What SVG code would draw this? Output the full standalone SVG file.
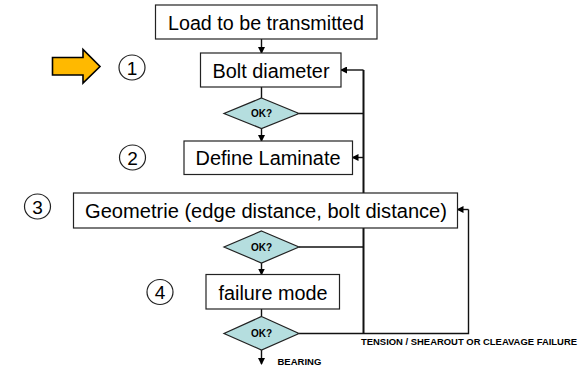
<svg xmlns="http://www.w3.org/2000/svg" width="585" height="368" viewBox="0 0 585 368">
<defs>
<marker id="ah" markerWidth="7" markerHeight="7" refX="6" refY="3.5" orient="auto" markerUnits="userSpaceOnUse">
<path d="M0,0 L7,3.5 L0,7 Z" fill="#000"/>
</marker>
<style>
.box{fill:#fff;stroke:#222;stroke-width:1.2}
.dia{fill:#B5DEDF;stroke:#222;stroke-width:1.2}
.lbl{font-family:"Liberation Sans",Arial,sans-serif;font-size:20px;fill:#000;text-anchor:middle}
.ok{font-family:"Liberation Sans",Arial,sans-serif;font-size:10px;font-weight:bold;fill:#000;text-anchor:middle}
.num{font-family:"Liberation Sans",Arial,sans-serif;font-size:19px;fill:#000;text-anchor:middle}
.circ{fill:#fff;stroke:#222;stroke-width:1.2}
.small{font-family:"Liberation Sans",Arial,sans-serif;font-size:9.5px;font-weight:bold;fill:#000}
.ln{fill:none;stroke:#111;stroke-width:1.4}
.thick{fill:none;stroke:#111;stroke-width:2}
</style>
</defs>

<g id="connectors">
<line class="ln" x1="261.5" y1="39" x2="261.5" y2="53" marker-end="url(#ah)"/>
<line class="ln" x1="261.5" y1="87" x2="261.5" y2="98"/>
<line class="ln" x1="261.5" y1="128" x2="261.5" y2="141" marker-end="url(#ah)"/>
<line class="ln" x1="261.5" y1="263" x2="261.5" y2="274.5" marker-end="url(#ah)"/>
<line class="ln" x1="261.5" y1="309" x2="261.5" y2="316"/>
<line class="ln" x1="261.5" y1="350" x2="261.5" y2="364" marker-end="url(#ah)"/>
<polyline class="ln" points="299,113.5 363.5,113.5"/>
<polyline class="ln" points="299,247 363.5,247"/>
<polyline class="thick" points="363.5,70 363.5,333.5"/>
<line class="ln" x1="363.5" y1="70" x2="341" y2="70" marker-end="url(#ah)"/>
<line class="ln" x1="363.5" y1="157.5" x2="352.5" y2="157.5" marker-end="url(#ah)"/>
<polyline class="ln" points="299,333.5 468.5,333.5 468.5,209.5"/>
<line class="ln" x1="468.5" y1="209.5" x2="457.5" y2="209.5" marker-end="url(#ah)"/>
</g>

<g id="arrow-pointer">
<polygon points="52.5,57.5 83,57.5 83,49.5 100,66.5 83,83 83,75 52.5,75" fill="#FFB900" stroke="#000" stroke-width="1.6"/>
</g>

<g id="step1"><ellipse class="circ" cx="132" cy="67.5" rx="13" ry="12.5"/><text class="num" x="132" y="74.5">1</text></g>
<g id="step2"><ellipse class="circ" cx="132.5" cy="157.5" rx="13" ry="12.5"/><text class="num" x="132.5" y="164.5">2</text></g>
<g id="step3"><ellipse class="circ" cx="37.5" cy="206.5" rx="13" ry="12.5"/><text class="num" x="37.5" y="213.5">3</text></g>
<g id="step4"><ellipse class="circ" cx="160" cy="292" rx="13" ry="12.5"/><text class="num" x="160" y="299">4</text></g>

<g id="load"><rect class="box" x="155.5" y="5" width="221.5" height="34"/><text class="lbl" x="266" y="29.5" textLength="196" lengthAdjust="spacingAndGlyphs">Load to be transmitted</text></g>
<g id="bolt"><rect class="box" x="200.5" y="53" width="140.5" height="34"/><text class="lbl" x="271" y="77.5" textLength="117" lengthAdjust="spacingAndGlyphs">Bolt diameter</text></g>
<g id="ok1"><polygon class="dia" points="261.5,98 299,113.5 261.5,128.5 224,113.5"/><text class="ok" x="261.5" y="117">OK?</text></g>
<g id="laminate"><rect class="box" x="184" y="141" width="168.5" height="33.5"/><text class="lbl" x="268" y="165" textLength="145" lengthAdjust="spacingAndGlyphs">Define Laminate</text></g>
<g id="geometrie"><rect class="box" x="73.5" y="193" width="384" height="35"/><text class="lbl" x="266" y="218" textLength="362" lengthAdjust="spacingAndGlyphs">Geometrie (edge distance, bolt distance)</text></g>
<g id="ok2"><polygon class="dia" points="261.5,231 299,247 261.5,263 224,247"/><text class="ok" x="261.5" y="250.5">OK?</text></g>
<g id="failure"><rect class="box" x="206" y="274.5" width="133.5" height="34.5"/><text class="lbl" x="273" y="299.5" textLength="109" lengthAdjust="spacingAndGlyphs">failure mode</text></g>
<g id="ok3"><polygon class="dia" points="261.5,316.5 299,333.5 261.5,350 224,333.5"/><text class="ok" x="261.5" y="337">OK?</text></g>

<text class="small" x="361" y="344.5" textLength="216" lengthAdjust="spacingAndGlyphs">TENSION / SHEAROUT OR CLEAVAGE  FAILURE</text>
<text class="small" x="277.5" y="364.5">BEARING</text>
</svg>
